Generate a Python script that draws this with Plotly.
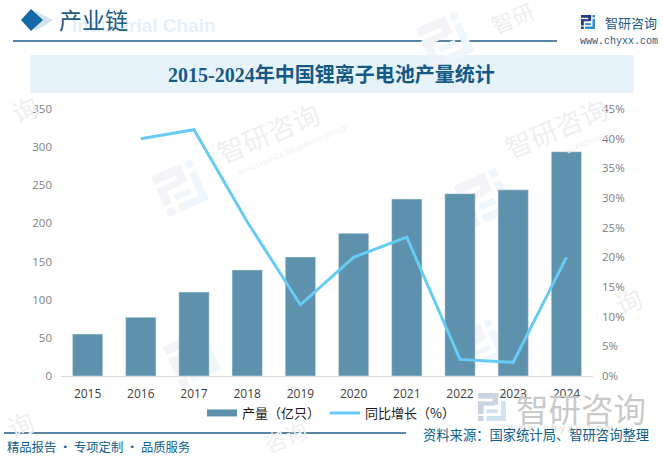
#Lithium battery output chart: bars for output, line on a second axis for growth
import math
import plotly.graph_objects as go

W = 663
H = 457
# plot area in window pixels
LEFT = 61
RIGHT = 593
TOP = 109
BOTTOM = 376

years = ['2015', '2016', '2017', '2018', '2019', '2020', '2021', '2022', '2023', '2024']
output = [55, 77, 110, 139, 156, 187, 232, 239, 244, 294]
growth = [None, 40.0, 41.5, 26.0, 12.0, 20.0, 23.4, 2.8, 2.3, 20.0]

title = '2015-2024年中国锂离子电池产量统计'
source = '资料来源：国家统计局、智研咨询整理'
slogan = '精品报告 · 专项定制 · 品质服务'


def px(x):
    return (x - LEFT) / (RIGHT - LEFT)


def py(y):
    return (BOTTOM - y) / (BOTTOM - TOP)


def rect(x0, y0, x1, y1, color, opacity=1):
    return dict(type='rect', xref='paper', yref='paper', x0=px(x0), x1=px(x1), y0=py(y0), y1=py(y1),
                fillcolor=color, opacity=opacity, line_width=0, layer='below')


def path(points, color, opacity=1):
    d = 'M ' + ' L '.join('{:.4f},{:.4f}'.format(px(a), py(b)) for a, b in points) + ' Z'
    return dict(type='path', xref='paper', yref='paper', path=d, fillcolor=color, opacity=opacity,
                line_width=0, layer='below')


def label(x, y, text, size, color, family='Noto Sans CJK SC', anchor='left', angle=0, bold=False):
    if bold:
        text = '<b>' + text + '</b>'
    return dict(xref='paper', yref='paper', x=px(x), y=py(y), text=text, showarrow=False, xanchor=anchor,
                yanchor='middle', textangle=angle, align=anchor,
                font=dict(size=size, color=color, family=family))


def logo(x, y, size, angle, dark, light):
    # company mark, built from small boxes on a unit square and turned around its centre
    dark_parts = [(0, 0, .72, .2), (.52, 0, .72, .42), (0, .3, .6, .45), (0, .3, .2, .75), (0, .82, .2, 1)]
    light_parts = [(.82, 0, 1, .18), (.82, .28, 1, 1), (.3, .82, 1, 1), (.3, .58, .7, .72)]
    a = math.radians(angle)
    out = []
    for parts, color in ((dark_parts, dark), (light_parts, light)):
        for u0, v0, u1, v1 in parts:
            pts = []
            for u, v in ((u0, v0), (u1, v0), (u1, v1), (u0, v1)):
                du = (u - .5) * size
                dv = (v - .5) * size
                pts.append((x + du * math.cos(a) - dv * math.sin(a), y + du * math.sin(a) + dv * math.cos(a)))
            out.append(path(pts, color))
    return out


fig = go.Figure()

fig.add_trace(go.Bar(x=years, y=output, marker_color='#5E91AB', width=0.57, yaxis='y', showlegend=False))
# thick line entry so the legend swatch comes out as long as the one in the picture
fig.add_trace(go.Scatter(x=[None], y=[None], name='产量（亿只）', mode='lines', yaxis='y',
                         line=dict(color='#5E91AB', width=7)))
fig.add_trace(go.Scatter(x=years, y=growth, name='同比增长（%）', mode='lines', yaxis='y2',
                         line=dict(color='#66CCF5', width=3)))

shapes = [
    # header
    path([(36, 11), (53, 20), (36, 31), (24, 20)], '#D3E4EF'),
    path([(31, 9), (43, 20), (31, 31), (21, 20)], '#1169A8'),
    dict(type='line', xref='paper', yref='paper', x0=px(13), x1=px(557), y0=py(41), y1=py(41),
         line=dict(color='#1F5C84', width=1.3), layer='below'),
    rect(30, 55, 634, 93, '#E6F3FB'),
    # footer rule
    dict(type='line', xref='paper', yref='paper', x0=px(4), x1=px(406), y0=py(433), y1=py(433),
         line=dict(color='#1F5C84', width=1.3), layer='below'),
]
shapes += logo(588, 22, 14, 0, '#22398E', '#2F8FD0')
shapes += logo(492, 407, 28, 0, '#C9D3E2', '#CFE3F1')
# faint marks behind the bars
for x, y, s in [(180, 188, 44), (484, 198, 46), (445, 40, 44), (192, 358, 44), (480, 345, 40)]:
    shapes += logo(x, y, s, -24, '#F2F4F7', '#F0F7FC')

annotations = [
    label(70, 26, 'Industrial Chain', 19, '#E4F0FA', family='Liberation Sans', bold=True),
    label(57, 21, '产业链', 23, '#1F5C84', family='Liberation Serif, Noto Sans CJK SC'),
    label(331, 75, title, 20, '#155A86', family='Liberation Serif, Noto Sans CJK SC', anchor='center', bold=True),
    label(603, 22, '智研咨询', 13, '#1F5C84'),
    label(578, 41, 'www.chyxx.com', 10, '#1F5C84', family='Liberation Mono'),
    label(514, 407, '智研咨询', 32.5, '#C9C9C9'),
    label(560, 428, 'w w w . c h y x x . c o m', 10, '#D8D8D8', family='Liberation Sans', anchor='center'),
    label(5, 447, slogan, 12.3, '#0F5E8C'),
    label(421, 434, source, 13.3, '#0F5E8C'),
]

# faint watermarks, only where the bars do not reach
for x, y, text, size in [(268, 132, '智研咨询', 27), (556, 128, '智研咨询', 27), (512, 17, '智研', 22),
                         (20, 423, '询', 26), (24, 108, '询', 26), (285, 436, '咨询', 22), (628, 300, '询', 26)]:
    annotations.append(label(x, y, text, size, '#EEEFF1', anchor='center', angle=-23))
for x, y, text in [(292, 150, 'INTELLIGENCE RESEARCH GROUP'), (592, 140, 'SEARCH GROUP')]:
    annotations.append(label(x, y, text, 7, '#EFF0F2', family='Liberation Sans', anchor='center', angle=-23))

fig.update_layout(
    width=W,
    height=H,
    margin=dict(l=LEFT, r=W - RIGHT, t=TOP, b=H - BOTTOM, autoexpand=False),
    paper_bgcolor='white',
    plot_bgcolor='rgba(0,0,0,0)',
    font=dict(family='Noto Sans CJK SC', size=12, color='#595959'),
    xaxis=dict(showgrid=False, showline=True, linecolor='#D9D9D9', ticks='', ticklabelstandoff=7,
               tickfont=dict(size=12, color='#404040', family='Open Sans'), tickmode='array',
               tickvals=years, ticktext=years),
    yaxis=dict(range=[0, 350], dtick=50, showgrid=False, zeroline=False, showline=False, ticks='',
               ticklabelstandoff=8, tickfont=dict(size=11.5, color='#7F7F7F', family='Open Sans')),
    yaxis2=dict(overlaying='y', side='right', anchor='x', range=[0, 45], dtick=5, ticksuffix='%', showgrid=False,
                zeroline=False, showline=False, ticks='', ticklabelstandoff=8,
                tickfont=dict(size=11.5, color='#7F7F7F', family='Open Sans')),
    legend=dict(orientation='h', x=px(331), y=py(413), xanchor='center', yanchor='middle',
                bgcolor='rgba(0,0,0,0)', font=dict(size=13, color='#1A1A1A'), traceorder='normal', itemwidth=30),
    shapes=shapes,
    annotations=annotations,
    showlegend=True,
)

fig.write_html("out.html", config={'displayModeBar': False}, post_script="document.body.style.margin='0';")
